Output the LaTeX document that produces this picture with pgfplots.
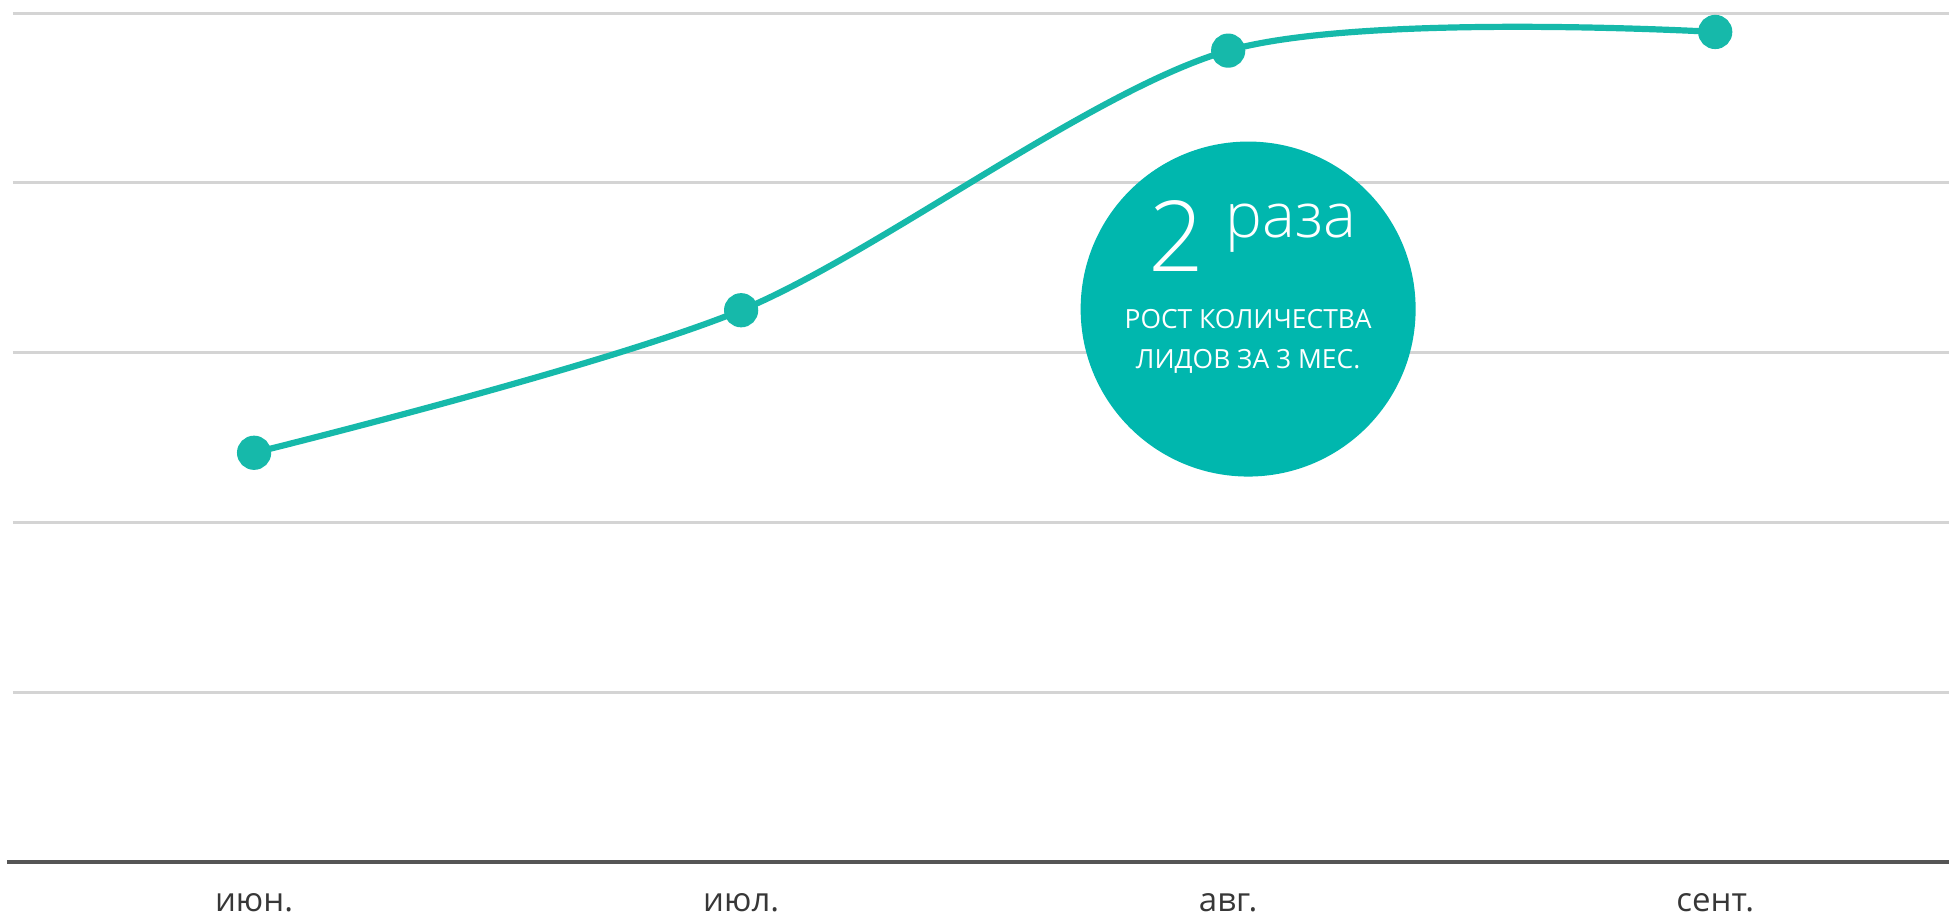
\documentclass[border=0pt]{standalone}
\usepackage{pgfplots}
\pgfplotsset{compat=1.18}
\usepackage{fontspec}
\setmainfont{Open Sans}
\newfontfamily\lightfont{Open Sans}[UprightFont=* Light]
\definecolor{teal1}{RGB}{0,183,174}
\definecolor{line1}{RGB}{22,185,170}
\definecolor{gridc}{RGB}{212,212,212}
\definecolor{axisc}{RGB}{85,85,85}
\definecolor{tickc}{RGB}{55,55,55}
\begin{document}
\begin{tikzpicture}
\useasboundingbox (0,0) rectangle (974.5pt,458pt);
\begin{axis}[
  at={(6.5pt,27.15pt)}, anchor=south west,
  scale only axis, width=968pt, height=424.2pt,
  xmin=-0.495, xmax=3.48, ymin=0, ymax=5,
  xtick={0,1,2,3}, xticklabels={июн.,июл.,авг.,сент.},
  ytick={0,1,2,3,4,5}, yticklabels={},
  ymajorgrids, grid style={gridc, line width=1.5pt},
  axis line style={draw=none},
  major tick length=0pt,
  xticklabel style={font=\fontsize{16.5}{18}\selectfont, text=tickc, yshift=-12.5pt},
  clip=false,
]
\draw[axisc, line width=1.8pt] ([xshift=-3pt]rel axis cs:0,0) -- (rel axis cs:1,0);
\addplot[line1, line width=3.1pt, smooth, mark=*, mark size=7pt, mark options={fill=line1, draw=none}]
  coordinates {(0,2.41) (1,3.25) (2,4.78) (3,4.89)};
\fill[teal1] (axis cs:2.041,3.257) circle[radius=83.75pt];
\node[anchor=base west, inner sep=0, text=white, font=\lightfont\fontsize{49}{49}\selectfont, xshift=-50pt, yshift=18.6pt] at (axis cs:2.041,3.257) {2};
\node[anchor=base west, inner sep=0, text=white, font=\lightfont\fontsize{31}{31}\selectfont, xshift=-11.5pt, yshift=36pt] at (axis cs:2.041,3.257) {раза};
\node[anchor=base, inner sep=0, text=white, font=\fontsize{13.2}{14}\selectfont, yshift=-9.5pt] at (axis cs:2.041,3.257) {РОСТ КОЛИЧЕСТВА};
\node[anchor=base, inner sep=0, text=white, font=\fontsize{13.2}{14}\selectfont, yshift=-29.5pt] at (axis cs:2.041,3.257) {ЛИДОВ ЗА 3 МЕС.};
\end{axis}
\end{tikzpicture}
\end{document}
